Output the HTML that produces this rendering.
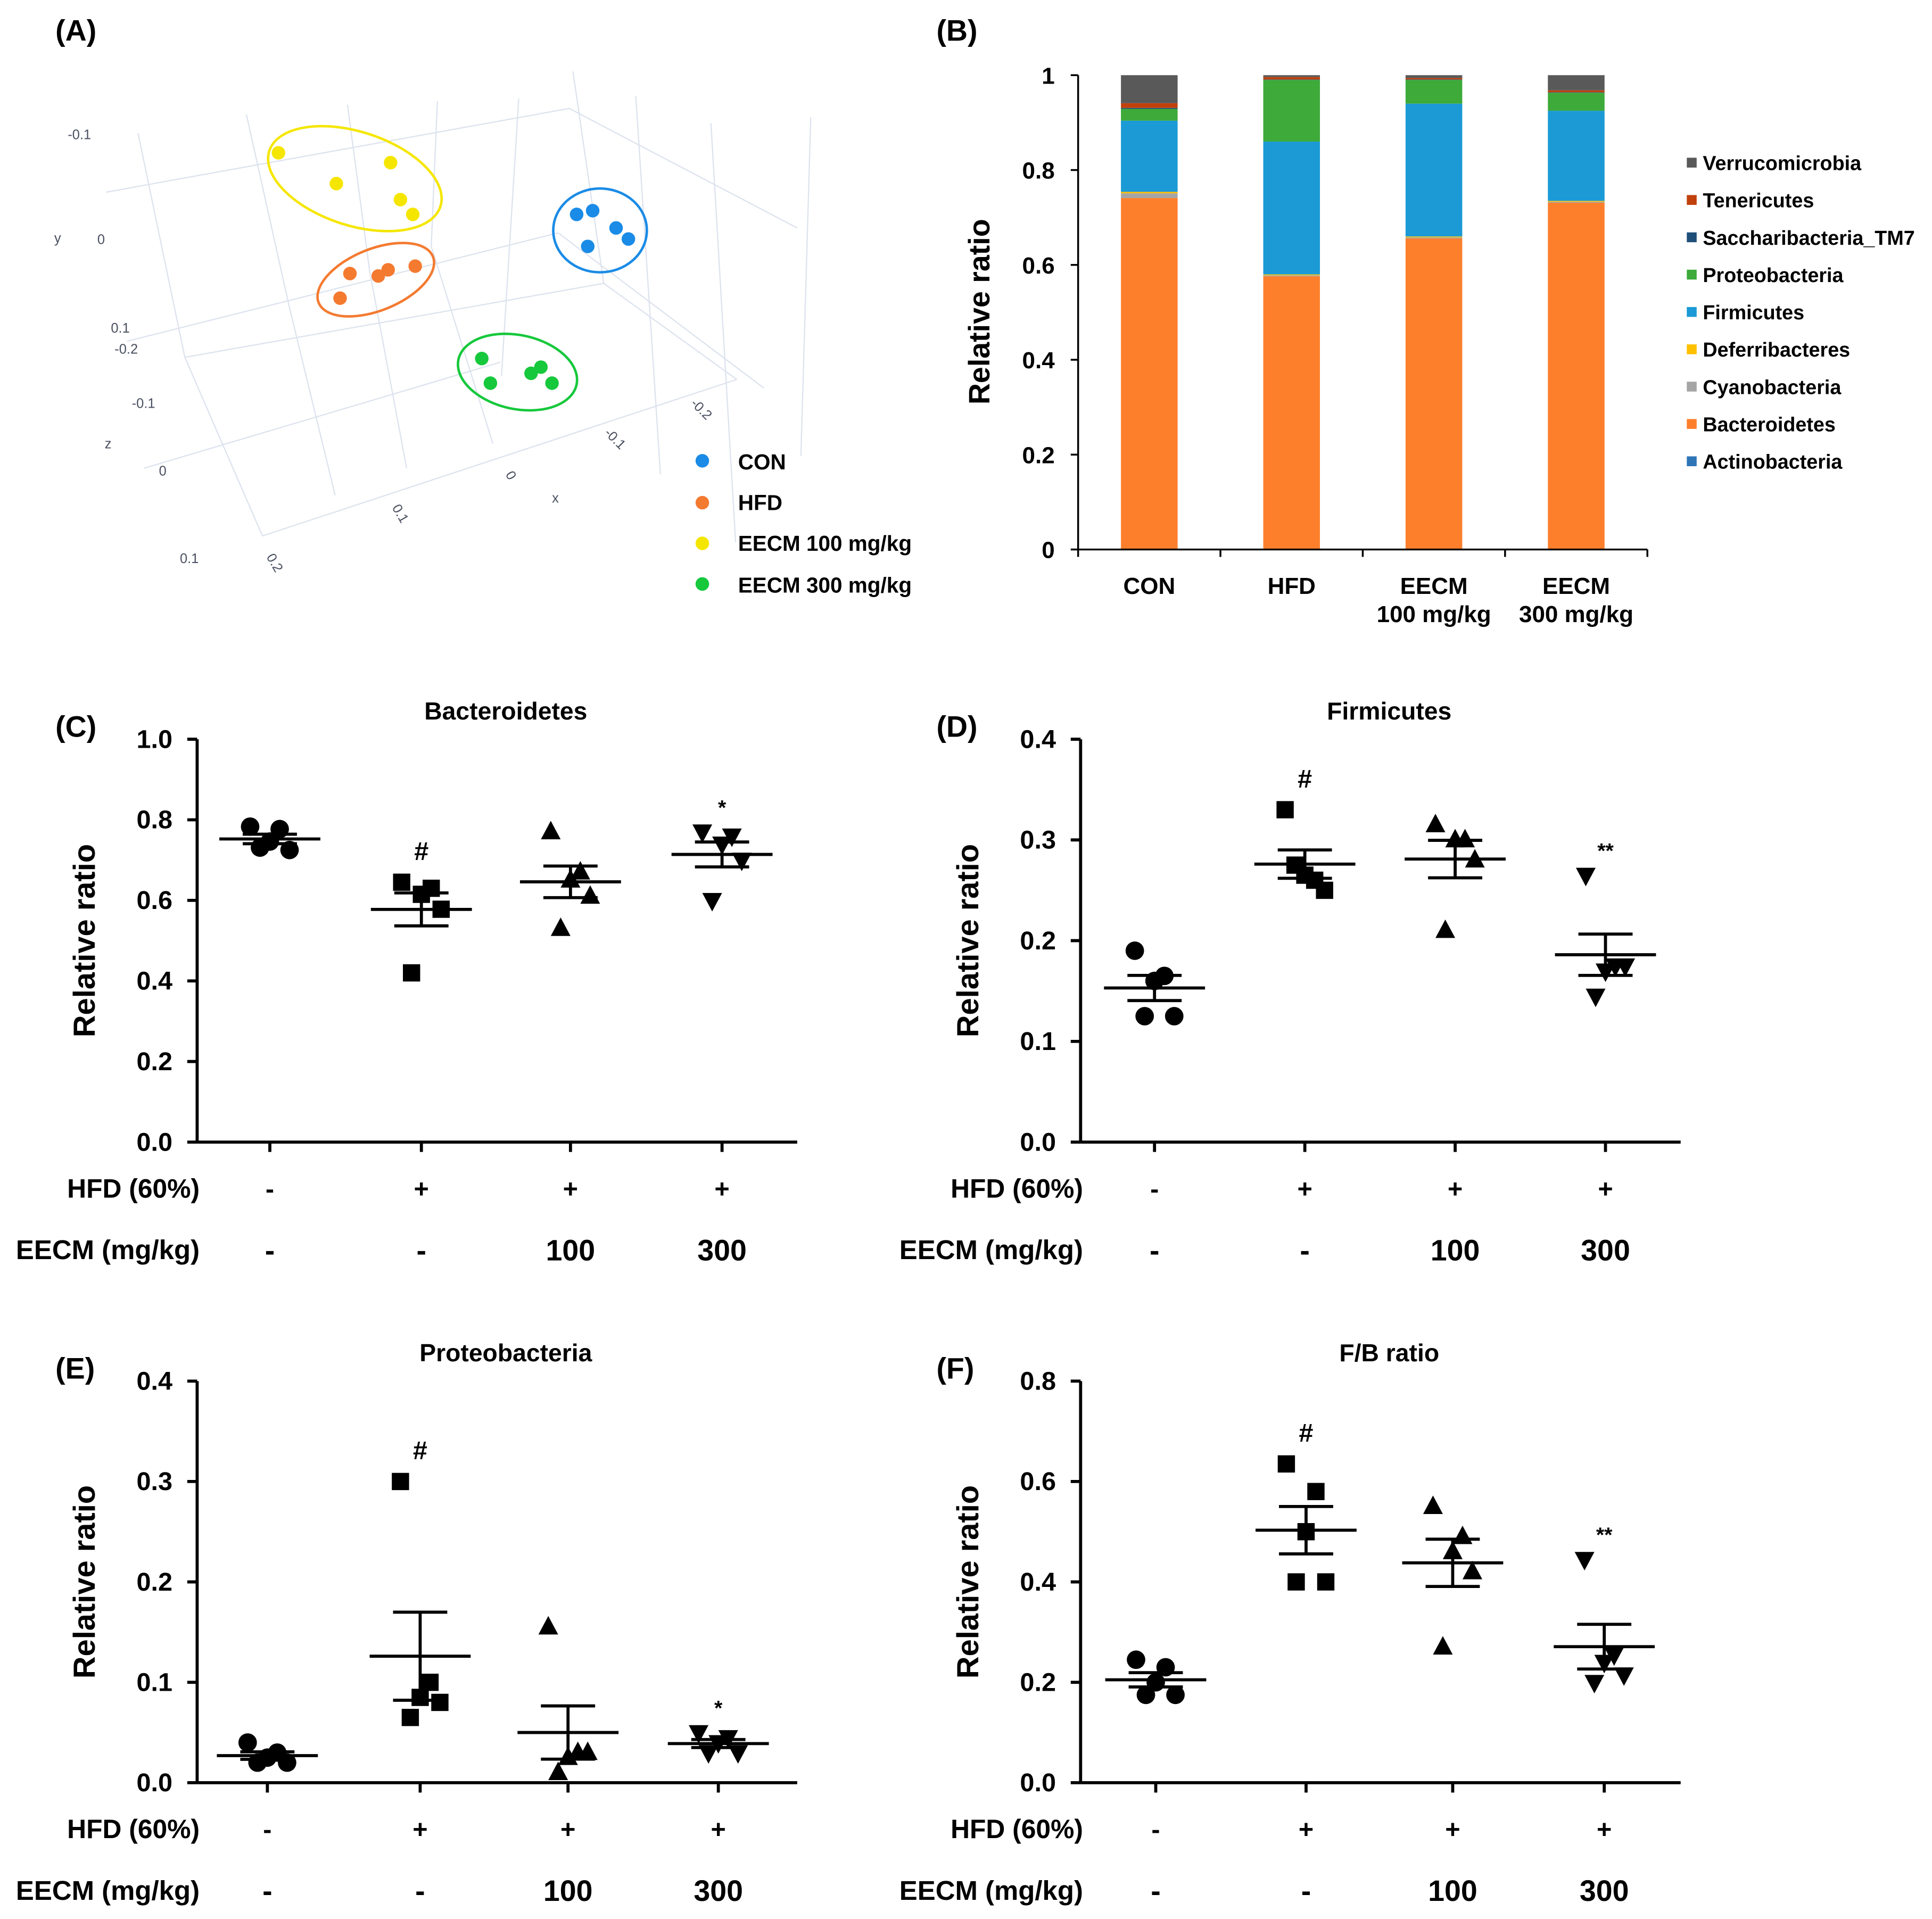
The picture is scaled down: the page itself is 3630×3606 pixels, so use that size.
<!DOCTYPE html>
<html><head><meta charset="utf-8"><style>
html,body{margin:0;padding:0;background:#fff}
svg{display:block}
text{font-family:"Liberation Sans",sans-serif;font-weight:bold;fill:#000}
.g{stroke:#dde3ee;stroke-width:1;fill:none}
.t{font-weight:normal;fill:#4a5060;font-size:11px}
</style></head><body>
<svg id="root" xmlns="http://www.w3.org/2000/svg" width="3630" height="3606" viewBox="0 0 1568 1557.6">
<rect width="1568" height="1558" fill="#fff"/>
<g id="pa">
<text x="45" y="33" font-size="24">(A)</text>
<path class="g" d="M86,156 L462,88 L647,185 M103,277 L453,189 L620,315 M117,380 L406,294 M112,108 L150,290 L213,435 M200,93 L235,250 L272,402 M282,85 L300,220 L330,380 M355,82 L350,200 L400,360 M421,80 L407,305 M465,58 L490,230 L598,308 M516,78 L536,385 M577,100 L597,440 M658,95 L650,370 M213,435 L598,308 M150,290 L490,230"/>
<g class="t">
<text class="t" x="55" y="113">-0.1</text><text class="t" x="44" y="197" font-size="13">y</text><text class="t" x="79" y="198">0</text>
<text class="t" x="90" y="270">0.1</text><text class="t" x="93" y="287">-0.2</text><text class="t" x="107" y="331">-0.1</text>
<text class="t" x="85" y="364" font-size="13">z</text><text class="t" x="129" y="386">0</text><text class="t" x="146" y="457">0.1</text>
<text class="t" x="216" y="452" transform="rotate(60 216 452)">0.2</text><text class="t" x="318" y="412" transform="rotate(60 318 412)">0.1</text>
<text class="t" x="410" y="385" transform="rotate(60 410 385)">0</text><text class="t" x="448" y="408" font-size="13">x</text>
<text class="t" x="490" y="352" transform="rotate(45 490 352)">-0.1</text><text class="t" x="560" y="328" transform="rotate(45 560 328)">-0.2</text>
</g>
<ellipse cx="288" cy="145" rx="73" ry="38" transform="rotate(18 288 145)" fill="none" stroke="#f5e600" stroke-width="2"/>
<ellipse cx="305" cy="227" rx="50" ry="25" transform="rotate(-22 305 227)" fill="none" stroke="#f47a30" stroke-width="2"/>
<ellipse cx="487" cy="187" rx="38" ry="34" fill="none" stroke="#1a8be6" stroke-width="2"/>
<ellipse cx="420" cy="302" rx="49" ry="30" transform="rotate(12 420 302)" fill="none" stroke="#16c83c" stroke-width="2"/>
<g id="pcapts"></g>
<g>
<circle cx="570" cy="374" r="5.5" fill="#1a8be6"/><text x="599" y="381" font-size="17.5">CON</text>
<circle cx="570" cy="408" r="5.5" fill="#f47a30"/><text x="599" y="414" font-size="17.5">HFD</text>
<circle cx="570" cy="441" r="5.5" fill="#f5e600"/><text x="599" y="447" font-size="17.5">EECM 100 mg/kg</text>
<circle cx="570" cy="474" r="5.5" fill="#16c83c"/><text x="599" y="481" font-size="17.5">EECM 300 mg/kg</text>
</g>
</g>
<g id="pb"></g>
<g id="pc"></g><g id="pd"></g><g id="pe"></g><g id="pf"></g>
</svg>
<script>
const NS="http://www.w3.org/2000/svg";
function el(p,tag,a,txt){const e=document.createElementNS(NS,tag);for(const k in a)e.setAttribute(k,a[k]);if(txt!==undefined)e.textContent=txt;p.appendChild(e);return e;}

const pcaX_con=[468,481,500,510,477], pcaY_con=[174,171,185,194,200];
const pcaX_hfd=[276,284,307,315,337], pcaY_hfd=[242,222,224,219,216];
const pcaX_e100=[226,273,317,325,335], pcaY_e100=[124,149,132,162,174];
const pcaX_e300=[391,398,431,439,448], pcaY_e300=[291,311,303,298,311];
(function(){const g=document.getElementById('pcapts');
[[pcaX_con,pcaY_con,'#1a8be6'],[pcaX_hfd,pcaY_hfd,'#f47a30'],[pcaX_e100,pcaY_e100,'#f5e600'],[pcaX_e300,pcaY_e300,'#16c83c']].forEach(s=>{
s[0].forEach((x,i)=>{const c=el(g,'circle',{cx:x,cy:s[1][i],r:5.5,fill:s[2]});

});});})();

const barCats=['CON','HFD','EECM|100 mg/kg','EECM|300 mg/kg'];
const phyla=['Actinobacteria','Bacteroidetes','Cyanobacteria','Deferribacteres','Firmicutes','Proteobacteria','Saccharibacteria_TM7','Tenericutes','Verrucomicrobia'];
const phylaColors=['#2e75b6','#fd7f2c','#a5a5a5','#ffc000','#1b9ad6','#3daa3a','#1f4e79','#c0410c','#595959'];
const valActino=[0.001,0.001,0.001,0.001];
const valBact=[0.74,0.575,0.655,0.73];
const valCyano=[0.01,0.002,0.002,0.002];
const valDefer=[0.003,0.002,0.002,0.002];
const valFirm=[0.15,0.28,0.28,0.19];
const valProteo=[0.025,0.13,0.05,0.038];
const valTM7=[0.002,0.001,0.001,0.001];
const valTener=[0.01,0.005,0.003,0.004];
const valVerru=[0.059,0.004,0.006,0.032];
const barTicks=[0,0.2,0.4,0.6,0.8,1];
(function(){
const g=document.getElementById('pb');
const x0=875,x1=1337,yB=446,yT=61;
const y=v=>yB-(yB-yT)*v;
const bw=(x1-x0)/barCats.length;
const xc=i=>x0+bw*(i+0.5);
el(g,'text',{x:760,y:33,'font-size':24},'(B)');
const series=[valActino,valBact,valCyano,valDefer,valFirm,valProteo,valTM7,valTener,valVerru];
barCats.forEach((c,i)=>{let acc=0;
series.forEach((s,k)=>{const r=el(g,'rect',{x:xc(i)-23,y:y(acc+s[i]),width:46,height:y(acc)-y(acc+s[i]),fill:phylaColors[k]});


acc+=s[i];});
const parts=c.split('|');
parts.forEach((p,j)=>{const t=el(g,'text',{x:xc(i),y:482+j*23,'font-size':19,'text-anchor':'middle'},p);

});
});
el(g,'line',{x1:x0,y1:yT,x2:x0,y2:yB,stroke:'#000','stroke-width':1.5});
el(g,'line',{x1:x0,y1:yB,x2:x1,y2:yB,stroke:'#000','stroke-width':1.5});
for(let i=0;i<=barCats.length;i++)el(g,'line',{x1:x0+bw*i,y1:yB,x2:x0+bw*i,y2:yB+6,stroke:'#000','stroke-width':1.5});
barTicks.forEach(v=>{el(g,'line',{x1:x0-6,y1:y(v),x2:x0,y2:y(v),stroke:'#000','stroke-width':1.5});
const t=el(g,'text',{x:856,y:y(v)+7,'font-size':19,'text-anchor':'end'},String(v));

});
const yt=el(g,'text',{x:803,y:253,'font-size':24,'text-anchor':'middle',transform:'rotate(-90 803 253)'},'Relative ratio');


for(let k=phyla.length-1,j=0;k>=0;k--,j++){const yy=132+j*30.3;
const lg=el(g,'g',{});


el(lg,'rect',{x:1369,y:yy-4,width:8,height:8,fill:phylaColors[k]});
el(lg,'text',{x:1382,y:yy+6,'font-size':16.3},phyla[k]);}
})();

const groupsHFD=['-','+','+','+'];
const groupsEECM=['-','-','100','300'];
const bactCON=[0.783,0.777,0.746,0.725,0.731], bactHFD=[0.645,0.63,0.615,0.578,0.42], bact100=[0.77,0.67,0.65,0.61,0.53], bact300=[0.77,0.76,0.74,0.70,0.60];
const firmCON=[0.19,0.165,0.16,0.125,0.125], firmHFD=[0.33,0.26,0.265,0.25,0.275], firm100=[0.315,0.3,0.3,0.28,0.21], firm300=[0.265,0.175,0.17,0.175,0.145];
const protCON=[0.04,0.03,0.025,0.02,0.02], protHFD=[0.30,0.10,0.085,0.08,0.065], prot100=[0.155,0.03,0.025,0.03,0.01], prot300=[0.05,0.045,0.04,0.03,0.03];
const fbCON=[0.245,0.23,0.2,0.175,0.175], fbHFD=[0.635,0.58,0.5,0.4,0.4], fb100=[0.55,0.49,0.46,0.42,0.27], fb300=[0.445,0.255,0.24,0.215,0.2];
const ticksC=[0,0.2,0.4,0.6,0.8,1.0], ticksD=[0,0.1,0.2,0.3,0.4], ticksE=[0,0.1,0.2,0.3,0.4], ticksF=[0,0.2,0.4,0.6,0.8];
const sigC=['','#','','*'], sigD=['','#','','**'], sigE=['','#','','*'], sigF=['','#','','**'];
const jitter=[-16,8,0,16,-8];

function scatter(id,lab,title,ax,top,bot,x1,gx,vmax,ticks,data,sig,rowY,lx){
const g=document.getElementById(id);


const y=v=>bot-(bot-top)*v/vmax;
el(g,'text',{x:lx,y:top-2,'font-size':24},'('+lab+')');
el(g,'text',{x:(ax+x1)/2+7,y:top-16,'font-size':20,'text-anchor':'middle'},title);
el(g,'line',{x1:ax,y1:top,x2:ax,y2:bot,stroke:'#000','stroke-width':2.5});
el(g,'line',{x1:ax,y1:bot,x2:x1,y2:bot,stroke:'#000','stroke-width':2.5});
ticks.forEach(v=>{el(g,'line',{x1:ax-8,y1:y(v),x2:ax,y2:y(v),stroke:'#000','stroke-width':2.5});
const t=el(g,'text',{x:ax-20,y:y(v)+7,'font-size':21,'text-anchor':'end'},v.toFixed(1));

});
gx.forEach(x=>el(g,'line',{x1:x,y1:bot,x2:x,y2:bot+8,stroke:'#000','stroke-width':2.5}));
const yt=el(g,'text',{x:ax-83,y:(top+bot)/2,'font-size':25,'text-anchor':'middle',transform:`rotate(-90 ${ax-83} ${(top+bot)/2})`},'Relative ratio');


data.forEach((arr,i)=>{const cx=gx[i];
arr.forEach((v,j)=>{const px=cx+jitter[j],py=y(v);let m;
if(i==0)m=el(g,'circle',{cx:px,cy:py,r:7.5});
else if(i==1)m=el(g,'rect',{x:px-7,y:py-7,width:14,height:14});
else if(i==2)m=el(g,'path',{d:`M${px},${py-9}L${px+8},${py+6}L${px-8},${py+6}Z`});
else m=el(g,'path',{d:`M${px},${py+9}L${px+8},${py-6}L${px-8},${py-6}Z`});

});
const n=arr.length,mean=arr.reduce((a,b)=>a+b,0)/n;
const sd=Math.sqrt(arr.reduce((a,b)=>a+(b-mean)**2,0)/(n-1)),sem=sd/Math.sqrt(n);
const mg=el(g,'g',{stroke:'#000','stroke-width':2.5});


el(mg,'line',{x1:cx-41,y1:y(mean),x2:cx+41,y2:y(mean)});
el(mg,'line',{x1:cx,y1:y(mean-sem),x2:cx,y2:y(mean+sem)});
el(mg,'line',{x1:cx-22,y1:y(mean+sem),x2:cx+22,y2:y(mean+sem)});
el(mg,'line',{x1:cx-22,y1:y(mean-sem),x2:cx+22,y2:y(mean-sem)});
if(sig[i]){const top5=Math.max(...arr);const s=el(g,'text',{x:cx,y:y(top5)-(sig[i]=='#'?18:14),'font-size':sig[i]=='#'?21:17,'text-anchor':'middle'},sig[i]);

}
el(g,'text',{x:cx,y:rowY+7,'font-size':21,'text-anchor':'middle'},groupsHFD[i]);
el(g,'text',{x:cx,y:rowY+58,'font-size':24,'text-anchor':'middle'},groupsEECM[i]);
});
el(g,'text',{x:ax+2,y:rowY+7,'font-size':21.5,'text-anchor':'end'},'HFD (60%)');
el(g,'text',{x:ax+2,y:rowY+57,'font-size':22,'text-anchor':'end'},'EECM (mg/kg)');
}
scatter('pc','C','Bacteroidetes',160,600,927,647,[219,342,463,586],1.0,ticksC,[bactCON,bactHFD,bact100,bact300],sigC,965,45);
scatter('pd','D','Firmicutes',877,600,927,1364,[937,1059,1181,1303],0.4,ticksD,[firmCON,firmHFD,firm100,firm300],sigD,965,760);
scatter('pe','E','Proteobacteria',160,1121,1447,647,[217,341,461,583],0.4,ticksE,[protCON,protHFD,prot100,prot300],sigE,1485,45);
scatter('pf','F','F/B ratio',877,1121,1447,1364,[938,1060,1179,1302],0.8,ticksF,[fbCON,fbHFD,fb100,fb300],sigF,1485,760);
</script>
</body></html>
